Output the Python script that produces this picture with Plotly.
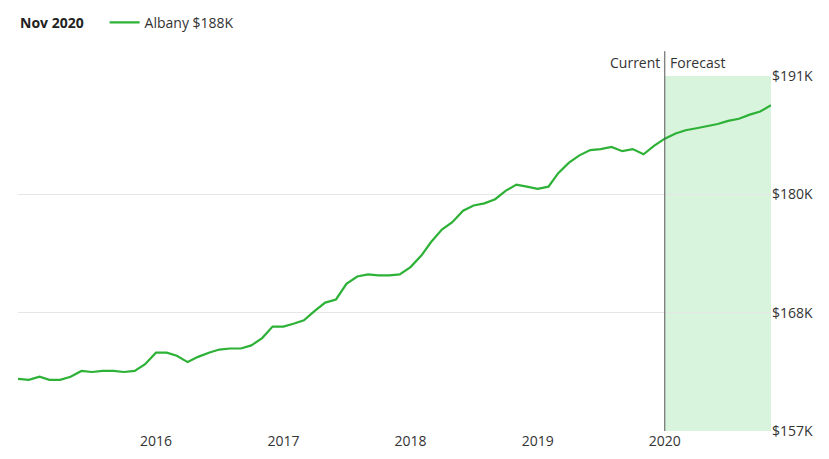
import plotly.graph_objects as go
import pandas as pd

# monthly home values, Dec 2014 .. Nov 2020 (thousands of $)
dates = pd.date_range("2014-12-01", periods=72, freq="MS")
values = [
    162.0, 161.9, 162.2, 161.9, 161.9, 162.2, 162.75, 162.65, 162.75, 162.75, 162.65, 162.75,
    163.4, 164.5, 164.5, 164.2, 163.6, 164.1, 164.5, 164.8, 164.9, 164.9, 165.2, 165.9,
    167.0, 167.0, 167.3, 167.6, 168.5, 169.3, 169.6, 171.1, 171.8, 172.0, 171.9, 171.9,
    172.0, 172.7, 173.8, 175.1, 176.3, 177.0, 178.1, 178.6, 178.8, 179.2, 180.0, 180.6,
    180.4, 180.2, 180.4, 181.7, 182.7, 183.4, 183.9, 184.0, 184.2, 183.8, 184.0, 183.5,
    184.3, 185.0, 185.5, 185.8, 186.0, 186.2, 186.4, 186.7, 186.9, 187.3, 187.6, 188.2,
]
y_ticks = [157, 168.33, 179.67, 191]
y_labels = ["$157K", "$168K", "$180K", "$191K"]
x_ticks = ["2016-01-01", "2017-01-01", "2018-01-01", "2019-01-01", "2020-01-01"]
x_labels = ["2016", "2017", "2018", "2019", "2020"]
split = "2020-01-01"

green = "#2db136"
fig = go.Figure()
fig.add_trace(go.Scatter(x=dates, y=values, mode="lines", name="Albany $188K",
                         line=dict(color=green, width=2.2)))

fig.add_vrect(x0=split, x1=dates[-1], fillcolor="#d8f4dc", line_width=0, layer="below")
fig.add_shape(type="line", x0=split, x1=split, xref="x", yref="paper", y0=0, y1=1.07,
              line=dict(color="#555555", width=1))
fig.add_annotation(x=split, y=1.07, xref="x", yref="paper", text="Current", showarrow=False,
                   xanchor="right", yanchor="top", xshift=-3, font=dict(size=14, color="#333"))
fig.add_annotation(x=split, y=1.07, xref="x", yref="paper", text="Forecast", showarrow=False,
                   xanchor="left", yanchor="top", xshift=3, font=dict(size=14, color="#333"))
fig.add_annotation(x=0.0, y=1.15, xref="paper", yref="paper", text="<b>Nov 2020</b>",
                   showarrow=False, xanchor="left", yanchor="middle", font=dict(size=14, color="#222"))

fig.update_layout(
    width=829, height=459,
    margin=dict(l=10, r=66, t=68, b=36, autoexpand=False),
    paper_bgcolor="white", plot_bgcolor="white",
    font=dict(family="Open Sans", size=14, color="#333"),
    showlegend=True,
    legend=dict(orientation="h", x=0.115, y=1.15, xanchor="left", yanchor="middle",
                font=dict(size=14, color="#333"), itemwidth=30),
    xaxis=dict(range=[dates[0], dates[-1]], tickvals=x_ticks, ticktext=x_labels, automargin=False,
               showgrid=False, zeroline=False, showline=False, ticks=""),
    yaxis=dict(range=[157, 191], tickvals=y_ticks, ticktext=y_labels, side="right", automargin=False,
               showgrid=True, gridcolor="#e6e6e6", zeroline=False, showline=False, ticks=""),
)
fig.write_html("out.html")
